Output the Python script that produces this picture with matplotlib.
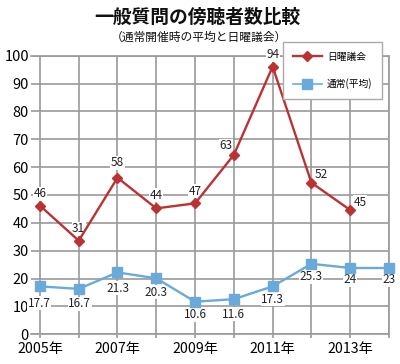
import matplotlib
matplotlib.use("Agg")
import matplotlib.pyplot as plt
from matplotlib.lines import Line2D

plt.rcParams["font.family"] = ["Noto Sans CJK JP", "DejaVu Sans"]

# ── data ──
years = [2005, 2006, 2007, 2008, 2009, 2010, 2011, 2012, 2013, 2014]
sunday_years = years[:9]
sunday_vals = [46.2, 33.6, 56.2, 45.2, 47.0, 64.4, 96.1, 54.4, 44.6]
sunday_labels = ["46", "31", "58", "44", "47", "63", "94", "52", "45"]
normal_vals = [17.2, 16.3, 22.2, 20.1, 11.7, 12.6, 17.2, 25.3, 23.8, 23.8]
normal_labels = ["17.7", "16.7", "21.3", "20.3", "10.6", "11.6", "17.3", "25.3", "24", "23"]
yticks = list(range(0, 101, 10))
xtick_labels = ["2005年", "", "2007年", "", "2009年", "", "2011年", "", "2013年", ""]

RED = "#bb3232"
BLUE = "#6aaadb"
GRID = "#9a9a9a"

fig = plt.figure(figsize=(4.0, 3.64), dpi=100)
ax = fig.add_axes([0.0775, 0.0816, 0.895, 0.7654])

ax.plot(sunday_years, sunday_vals, color=RED, lw=1.7, marker="D", ms=5.5,
        zorder=4, clip_on=False)
ax.plot(years, normal_vals, color=BLUE, lw=1.7, marker="s", ms=7,
        zorder=4, clip_on=False)

# red labels (mostly above the point)
red_off = [(0, 12), (0, 12), (0, 15), (0, 13), (0, 12), (-8, 9), (0, 12), (10, 8), (10, 8)]
for x, y, s, o in zip(sunday_years, sunday_vals, sunday_labels, red_off):
    ax.annotate(s, (x, y), xytext=o, textcoords="offset pixels",
                ha="center", va="center", fontsize=8.5, color="#222222",
                bbox=dict(fc="white", ec="none", pad=0.3), zorder=3)

# blue labels (below the point)
blue_off = [(-1, -17), (1, -15), (0, -16), (0, -14), (0, -13), (0, -15), (0, -13), (0, -13), (0, -12), (0, -12)]
for x, y, s, o in zip(years, normal_vals, normal_labels, blue_off):
    ax.annotate(s, (x, y), xytext=o, textcoords="offset pixels",
                ha="center", va="center", fontsize=8.5, color="#222222",
                bbox=dict(fc="white", ec="none", pad=0.3), zorder=3)

ax.set_xlim(2004.77, 2014)
ax.set_ylim(0, 100)
ax.set_xticks(years)
ax.set_xticklabels(xtick_labels)
ax.set_yticks(yticks)
ax.tick_params(axis="x", length=3, width=1.2, color=GRID, pad=2.5, labelsize=10.2)
ax.tick_params(axis="y", length=0, pad=1.5, labelsize=10.5)
ax.grid(True, color=GRID, lw=1.2)
ax.set_axisbelow(True)
for side in ["top", "right", "bottom"]:
    ax.spines[side].set_color(GRID)
    ax.spines[side].set_linewidth(1.2)
ax.spines["left"].set_visible(False)

handles = [
    Line2D([], [], color=RED, lw=1.7, marker="D", ms=5.5),
    Line2D([], [], color=BLUE, lw=1.2, marker="s", ms=7),
]
leg = fig.legend(handles, ["日曜議会", "通常(平均)"], loc="upper right",
                 bbox_to_anchor=(382 / 400, 1 - 42 / 364), borderaxespad=0,
                 fontsize=7, frameon=True, fancybox=False,
                 edgecolor="#aaaaaa", framealpha=1,
                 labelspacing=1.7, borderpad=1.0, handlelength=3.0,
                 handletextpad=0.5)
leg.get_frame().set_linewidth(1.0)
leg.set_zorder(5)

fig.text(0.4925, 0.953, "一般質問の傍聴者数比較", ha="center", va="center",
         fontsize=13.5, fontweight="bold", color="#111111")
fig.text(0.4975, 0.898, "（通常開催時の平均と日曜議会）", ha="center", va="center",
         fontsize=8.5, color="#111111")

fig.savefig("out.png", dpi=100)
